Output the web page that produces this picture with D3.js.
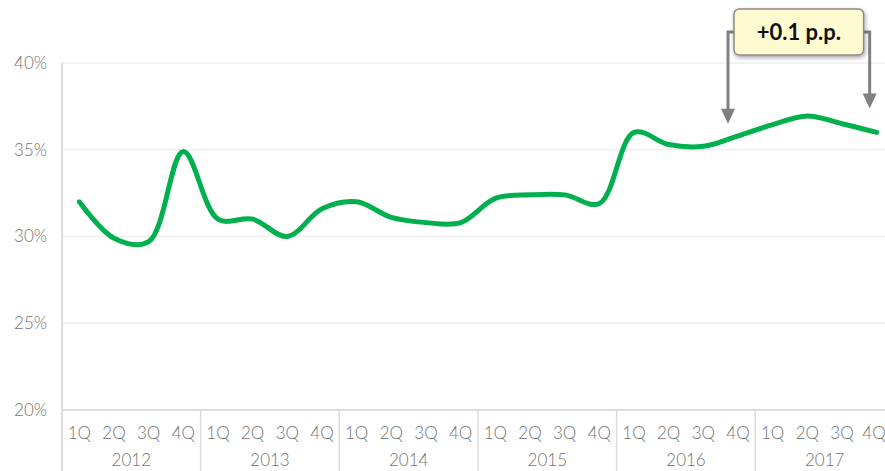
<!DOCTYPE html>
<html>
<head>
<meta charset="utf-8">
<script src="https://cdn.jsdelivr.net/npm/d3@7"></script>
<style>
  body { margin: 0; background: #fff; }
  svg { display: block; font-family: Lato, "Open Sans", sans-serif; }
</style>
</head>
<body>
<svg id="chart" width="885" height="471"></svg>
<script>
// data
const years = ["2012", "2013", "2014", "2015", "2016", "2017"];
const quarters = ["1Q", "2Q", "3Q", "4Q"];
const shareValues = [
  32.0, 29.9, 29.7, 34.9,
  31.0, 31.0, 30.0, 31.6,
  32.0, 31.1, 30.8, 30.8,
  32.2, 32.4, 32.4, 31.9,
  36.0, 35.3, 35.2, 35.8,
  36.45, 36.95, 36.5, 36.0
];
const yTicks = [20, 25, 30, 35, 40];
const annotationText = "+0.1 p.p.";
const annotationFrom = 19; // 4Q 2016
const annotationTo = 23;   // 4Q 2017

const data = shareValues.map((v, i) => ({
  key: years[Math.floor(i / 4)] + "-" + quarters[i % 4],
  year: years[Math.floor(i / 4)],
  quarter: quarters[i % 4],
  value: v
}));

const width = 885, height = 471;
const margin = { top: 63, right: -9, bottom: 61, left: 62 };
const labelColor = "#737373";

const svg = d3.select("#chart");

const x = d3.scaleBand()
  .domain(data.map(d => d.key))
  .range([margin.left, width - margin.right]);
const xYear = d3.scaleBand()
  .domain(years)
  .range([margin.left, width - margin.right]);
const y = d3.scaleLinear()
  .domain([20, 40])
  .range([height - margin.bottom, margin.top]);

// horizontal grid
svg.append("g")
  .selectAll("line")
  .data(yTicks)
  .join("line")
  .attr("x1", margin.left)
  .attr("x2", width)
  .attr("y1", d => y(d))
  .attr("y2", d => y(d))
  .attr("stroke", d => d === 20 ? "#dcdcdc" : "#efefef")
  .attr("stroke-width", d => d === 20 ? 2 : 1.5);

// y labels
svg.append("g")
  .selectAll("text")
  .data(yTicks)
  .join("text")
  .attr("x", 47)
  .attr("y", d => y(d))
  .attr("dy", "0.35em")
  .attr("text-anchor", "end")
  .attr("fill", labelColor)
  .attr("font-size", 17)
  .attr("font-weight", 300)
  .text(d => d + "%");

// left axis line
svg.append("line")
  .attr("x1", margin.left).attr("x2", margin.left)
  .attr("y1", y(40)).attr("y2", height)
  .attr("stroke", "#dcdcdc").attr("stroke-width", 2);

// year separators below axis
svg.append("g")
  .selectAll("line")
  .data(years.slice(1))
  .join("line")
  .attr("x1", d => xYear(d)).attr("x2", d => xYear(d))
  .attr("y1", y(20)).attr("y2", height)
  .attr("stroke", "#dcdcdc").attr("stroke-width", 1.5);

// quarter labels
svg.append("g")
  .selectAll("text")
  .data(data)
  .join("text")
  .attr("x", d => Math.min(x(d.key) + x.bandwidth() / 2, width - 11))
  .attr("y", 439)
  .attr("text-anchor", "middle")
  .attr("fill", labelColor)
  .attr("font-size", 17)
  .attr("font-weight", 300)
  .text(d => d.quarter);

// year labels
svg.append("g")
  .selectAll("text")
  .data(years)
  .join("text")
  .attr("x", d => xYear(d) + xYear.bandwidth() / 2)
  .attr("y", 466)
  .attr("text-anchor", "middle")
  .attr("fill", labelColor)
  .attr("font-size", 17)
  .attr("font-weight", 300)
  .text(d => d);

// the line
const line = d3.line()
  .curve(d3.curveCatmullRom.alpha(0.5))
  .x(d => x(d.key) + x.bandwidth() / 2)
  .y(d => y(d.value));

svg.append("path")
  .datum(data)
  .attr("fill", "none")
  .attr("stroke", "#00b04f")
  .attr("stroke-width", 5)
  .attr("stroke-linecap", "round")
  .attr("stroke-linejoin", "round")
  .attr("d", line);

// annotation
const defs = svg.append("defs");
const filt = defs.append("filter").attr("id", "shadow")
  .attr("x", "-20%").attr("y", "-20%").attr("width", "140%").attr("height", "160%");
filt.append("feDropShadow")
  .attr("dx", 1).attr("dy", 2).attr("stdDeviation", 2)
  .attr("flood-color", "#000").attr("flood-opacity", 0.35);

const p0 = data[annotationFrom], p1 = data[annotationTo];
const ax0 = x(p0.key) + x.bandwidth() / 2 - 10;
const ax1 = x(p1.key) + x.bandwidth() / 2 - 7;
const boxX = ax0 + 6, boxW = ax1 - ax0 - 12;
const boxY = 9, boxH = 46, midY = boxY + boxH / 2;
const tip0 = y(p0.value) - 12, tip1 = y(p1.value) - 24;

const arrow = svg.append("g").attr("stroke", "#808080").attr("stroke-width", 3).attr("fill", "none");
arrow.append("path").attr("d", `M${boxX},${midY}H${ax0}V${tip0 - 14}`);
arrow.append("path").attr("d", `M${boxX + boxW},${midY}H${ax1}V${tip1 - 14}`);
[[ax0, tip0], [ax1, tip1]].forEach(([ax, tip]) => {
  svg.append("path")
    .attr("d", `M${ax - 7},${tip - 15}L${ax + 7},${tip - 15}L${ax},${tip}Z`)
    .attr("fill", "#808080");
});

svg.append("rect")
  .attr("x", boxX).attr("y", boxY)
  .attr("width", boxW).attr("height", boxH)
  .attr("rx", 5)
  .attr("fill", "#fdfbcf")
  .attr("stroke", "#8a8a8a")
  .attr("stroke-width", 1.5)
  .attr("filter", "url(#shadow)");

svg.append("text")
  .attr("x", boxX + boxW / 2)
  .attr("y", midY)
  .attr("dy", "0.36em")
  .attr("text-anchor", "middle")
  .attr("font-size", 22)
  .attr("font-weight", "bold")
  .attr("fill", "#111")
  .text(annotationText);
</script>
</body>
</html>
